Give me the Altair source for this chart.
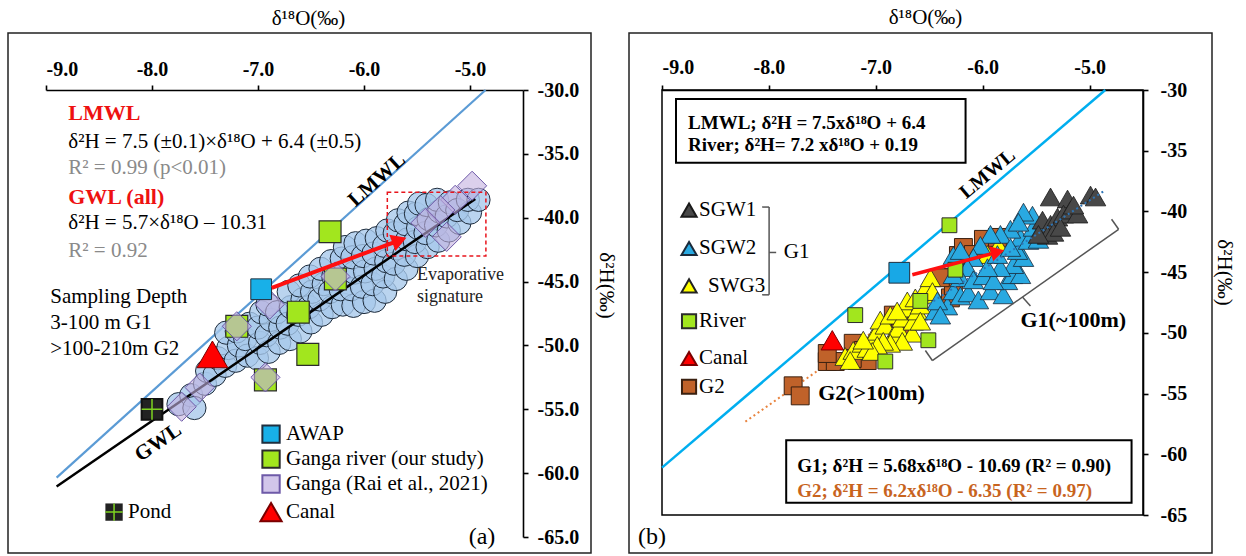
import altair as alt
import pandas as pd

FONT = "Liberation Serif"

# ---------------- Panel (a) data ----------------
circ_x = [-7.75, -7.63, -7.6, -7.5, -7.48, -7.41, -7.38, -7.31, -7.28, -7.3, -7.21, -7.18, -7.2,
          -7.1, -7.12, -7.08, -7.01, -6.98, -7.0, -6.97, -6.9, -6.92, -6.88, -6.91, -6.8, -6.79,
          -6.82, -6.7, -6.72, -6.69, -6.71, -6.6, -6.62, -6.58, -6.61, -6.5, -6.52, -6.49, -6.51,
          -6.4, -6.42, -6.38, -6.41, -6.3, -6.32, -6.29, -6.31, -6.2, -6.22, -6.19, -6.21, -6.18,
          -6.1, -6.12, -6.09, -6.11, -6.08, -6.0, -6.02, -5.99, -6.01, -5.98, -5.9, -5.92, -5.89,
          -5.91, -5.88, -5.8, -5.82, -5.79, -5.81, -5.78, -5.7, -5.72, -5.69, -5.71, -5.68, -5.6,
          -5.62, -5.59, -5.61, -5.58, -5.5, -5.52, -5.49, -5.51, -5.48, -5.4, -5.42, -5.39, -5.41,
          -5.3, -5.32, -5.29, -5.31, -5.2, -5.22, -5.19, -5.1, -5.12, -5.0, -5.02, -4.92]
circ_y = [-54.6, -53.9, -54.9, -53.0, -52.0, -52.3, -51.0, -51.6, -50.2, -49.0, -51.2, -50.0, -48.9,
          -50.8, -49.5, -48.3, -51.0, -49.8, -48.6, -47.4, -50.5, -49.2, -48.0, -46.8, -49.8, -48.6,
          -47.4, -49.5, -48.3, -47.0, -45.8, -48.9, -47.6, -46.4, -45.3, -48.2, -47.0, -45.8, -44.6,
          -47.6, -46.4, -45.2, -44.0, -47.0, -45.8, -44.6, -43.4, -46.8, -45.6, -44.4, -43.2, -42.3,
          -46.9, -45.6, -44.3, -43.1, -42.0, -46.6, -45.4, -44.2, -43.0, -41.8, -46.5, -45.2, -44.0,
          -42.8, -41.6, -45.8, -44.6, -43.4, -42.2, -41.0, -44.8, -43.6, -42.4, -41.2, -40.2, -44.0,
          -42.9, -41.7, -40.5, -39.6, -43.0, -41.9, -40.8, -39.7, -38.9, -42.3, -41.2, -40.1, -39.0,
          -41.8, -40.6, -39.5, -38.6, -41.0, -39.9, -38.8, -40.4, -39.4, -39.6, -38.6, -38.6]

river_a_x = [-6.32, -6.27, -6.62, -7.2, -6.53, -6.93]
river_a_y = [-41.1, -44.8, -47.4, -48.5, -50.7, -52.7]

rai_x = [-4.98, -5.14, -5.28, -5.42, -5.22, -6.27, -6.89, -7.2, -6.93, -7.55, -7.72]
rai_y = [-37.5, -38.6, -39.4, -40.4, -41.5, -44.6, -46.8, -48.5, -52.5, -53.3, -54.8]

awap_a = (-6.97, -45.6)
pond_a = (-8.0, -55.0)
canal_a = (-7.43, -50.7)

lmwl_a_x = [-8.9, -4.853]
lmwl_a_y = [-60.35, -30.0]
gwl_a_x = [-8.9, -4.95]
gwl_a_y = [-61.04, -38.53]

# ---------------- Panel (b) data ----------------
sgw1_x = [-5.365, -5.206, -4.991, -4.944, -5.440, -5.365, -5.300, -5.244, -5.178, -5.112,
          -5.393, -5.337, -5.272, -5.478, -5.150]
sgw1_y = [-38.81, -38.98, -38.65, -38.81, -40.72, -41.06, -40.47, -40.22, -39.89, -40.22,
          -41.97, -41.72, -41.31, -41.89, -39.48]

sgw2_x = [-6.443, -6.330, -6.274, -6.208, -6.134, -6.040, -5.927, -5.806, -5.768, -5.721, -5.646,
          -5.712, -5.618, -5.674, -5.646, -5.571, -5.525, -5.534, -5.618, -5.740, -5.834, -5.927,
          -6.021, -6.087, -6.143, -6.208, -6.274, -6.274, -6.208, -6.087, -5.993, -5.899, -5.834,
          -5.955, -5.862, -5.740, -6.424, -6.396, -5.459, -5.478, -5.665]
sgw2_y = [-48.20, -47.79, -46.54, -46.96, -46.71, -47.29, -46.54, -46.87, -45.71, -45.21, -45.21,
          -44.38, -43.80, -43.22, -42.14, -42.39, -41.31, -40.31, -40.06, -41.47, -41.89, -41.89,
          -42.80, -43.80, -44.63, -45.46, -45.21, -43.63, -43.22, -45.63, -45.30, -45.71, -44.63,
          -44.63, -43.55, -42.97, -47.37, -48.54, -41.55, -42.30, -40.89]

swg3_x = [-7.286, -7.211, -7.126, -7.080, -7.033, -6.986, -6.958, -6.911, -6.864, -6.836, -6.789,
          -6.752, -6.724, -6.705, -6.658, -6.649, -6.611, -6.583, -6.555, -6.518, -6.489, -6.752,
          -6.864, -6.930, -6.986, -7.033, -6.583, -6.630, -5.852, -5.955, -7.239, -7.117, -6.800,
          -6.470]
swg3_y = [-51.95, -51.45, -50.86, -51.28, -50.45, -49.87, -48.95, -49.37, -48.54, -50.20, -49.62,
          -48.79, -47.96, -47.37, -50.03, -49.04, -48.20, -47.71, -46.87, -46.04, -45.46, -50.70,
          -50.86, -50.70, -51.03, -51.53, -49.04, -47.12, -42.80, -43.55, -52.28, -50.60, -48.20,
          -46.60]

g2_x = [-7.773, -7.707, -7.454, -7.379, -7.454, -7.173, -7.080, -7.211, -7.117, -6.770, -6.705,
        -6.836, -6.274, -6.227, -6.180, -5.993, -5.862, -6.087, -6.302, -6.274, -6.396, -7.220]
g2_y = [-54.36, -55.19, -52.36, -52.36, -51.70, -52.28, -52.28, -50.86, -51.45, -49.37, -48.95,
        -48.54, -45.46, -43.63, -42.97, -42.30, -42.14, -43.55, -47.12, -46.13, -45.46, -52.11]

river_b_x = [-6.311, -7.192, -6.508, -6.911, -6.583, -6.255]
river_b_y = [-41.14, -48.54, -50.61, -52.36, -47.37, -44.80]

awap_b = (-6.78, -45.05)
canal_b = (-7.407, -50.61)

lmwl_b_x = [-9.0, -4.853]
lmwl_b_y = [-61.1, -30.0]
g1fit_x = [-6.5, -4.85]
g1fit_y = [-47.61, -38.24]
g2fit_x = [-8.22, -6.4]
g2fit_y = [-57.31, -46.03]

x_ticks = [-9, -8, -7, -6, -5]
y_ticks = [-30, -35, -40, -45, -50, -55, -60, -65]

# ---------------- scales / axes ----------------
XD = [-9, -4.5]
YD = [-65, -30]
WA, HA = 477, 447
WB, HB = 481, 425

SX = alt.Scale(domain=XD, nice=False, zero=False)
SY = alt.Scale(domain=YD, nice=False, zero=False)

AX_XA = alt.Axis(orient="top", values=x_ticks, labelExpr="'-' + format(abs(datum.value), '.1f')",
                 title="δ¹⁸O(‰)", labelPadding=6, titlePadding=31, titleX=262)
AX_YA = alt.Axis(orient="right", values=y_ticks, labelExpr="'-' + format(abs(datum.value), '.1f')",
                 title="δ²H(‰)", labelPadding=9, titlePadding=17, titleY=195)
AX_XB = alt.Axis(orient="top", values=x_ticks, labelExpr="'-' + format(abs(datum.value), '.1f')",
                 title="δ¹⁸O(‰)", labelPadding=8, titlePadding=30, titleX=263)
AX_YB = alt.Axis(orient="right", values=y_ticks, labelExpr="'-' + format(abs(datum.value), 'd')",
                 title="δ²H(‰)", labelPadding=12, titlePadding=27, titleY=182)


def ea(**extra):
    d = dict(x=alt.X("x:Q", scale=SX, axis=AX_XA), y=alt.Y("y:Q", scale=SY, axis=AX_YA))
    d.update(extra)
    return d


def eb(**extra):
    d = dict(x=alt.X("x:Q", scale=SX, axis=AX_XB), y=alt.Y("y:Q", scale=SY, axis=AX_YB))
    d.update(extra)
    return d


def df(xs, ys, **cols):
    d = pd.DataFrame({"x": xs, "y": ys})
    for k, v in cols.items():
        d[k] = v
    return d


def seg(rows):
    return pd.DataFrame(rows, columns=["x", "y", "x2", "y2"])


one = pd.DataFrame({"k": [0]})

# ---------------- Panel (a) ----------------
canvas = alt.Chart(one).mark_rect(opacity=0).encode(
    x=alt.value(-46), x2=alt.value(1200), y=alt.value(-90), y2=alt.value(466))
frame_a = alt.Chart(one).mark_rect(fillOpacity=0, stroke="#222", strokeWidth=1.5).encode(
    x=alt.value(-38), x2=alt.value(545), y=alt.value(-57), y2=alt.value(463))

lmwl_a = alt.Chart(df(lmwl_a_x, lmwl_a_y)).mark_line(color="#5b9bd5", strokeWidth=2.2).encode(**ea())
circles = alt.Chart(df(circ_x, circ_y)).mark_point(
    shape="circle", filled=True, size=540, fill="#a6c8ea", fillOpacity=0.78,
    stroke="#1e2c3c", strokeWidth=1, opacity=1).encode(**ea())
gwl_a = alt.Chart(df(gwl_a_x, gwl_a_y)).mark_line(color="black", strokeWidth=2.5).encode(**ea())
river_a = alt.Chart(df(river_a_x, river_a_y)).mark_point(
    shape="square", filled=True, size=480, fill="#a2e61e", stroke="#2b2b2b", strokeWidth=1.2,
    opacity=1).encode(**ea())
rai = alt.Chart(df(rai_x, rai_y)).mark_point(
    shape="diamond", filled=True, size=850, fill="#c3b1e0", fillOpacity=0.6,
    stroke="#6e5aa8", strokeWidth=1, opacity=1).encode(**ea())
awap_pt = alt.Chart(df([awap_a[0]], [awap_a[1]])).mark_point(
    shape="square", filled=True, size=430, fill="#18b0e8", stroke="#1f2f3f", strokeWidth=1,
    opacity=1).encode(**ea())
pond_pt = alt.Chart(df([pond_a[0]], [pond_a[1]])).mark_point(
    shape="square", filled=True, size=430, fill="#222", stroke="#111", opacity=1).encode(**ea())
pond_cross = alt.Chart(df([pond_a[0]], [pond_a[1]])).mark_point(
    shape="M-1,0L1,0M0,-1L0,1", filled=False, size=430, stroke="#7ed321", strokeWidth=1.5,
    opacity=1).encode(**ea())
canal_pt = alt.Chart(df([canal_a[0]], [canal_a[1]])).mark_point(
    shape="triangle-up", filled=True, size=950, fill="#ff0000", stroke="#7a0000", strokeWidth=1,
    opacity=1).encode(**ea())
evap_box = alt.Chart(seg([[-5.78, -38.0, -4.85, -43.0]])).mark_rect(
    fillOpacity=0, stroke="#e8141c", strokeWidth=1.5, strokeDash=[4, 3]).encode(
    **ea(x2=alt.X2("x2:Q"), y2=alt.Y2("y2:Q")))
arrow_a = alt.Chart(seg([[-6.87, -45.5, -5.666, -41.765]])).mark_rule(
    color="#ff1010", strokeWidth=4).encode(**ea(x2=alt.X2("x2:Q"), y2=alt.Y2("y2:Q")))
head_a = alt.Chart(df([-5.666], [-41.765])).mark_point(
    shape="triangle-right", filled=True, size=300, fill="#ff1010", angle=339.5,
    opacity=1, strokeWidth=0).encode(**ea())

txt_a_black = df([-8.79, -8.79, -8.96, -8.96, -8.96], [-34.07, -40.4, -46.2, -48.25, -50.3],
                 t=["δ²H = 7.5 (±0.1)×δ¹⁸O + 6.4 (±0.5)", "δ²H = 5.7×δ¹⁸O – 10.31",
                    "Sampling Depth", "3-100  m G1", ">100-210m  G2"])
txt_a_gray = df([-8.79, -8.79], [-36.1, -42.6], t=["R² = 0.99 (p<0.01)", "R² = 0.92"])
txt_a_red = df([-8.79, -8.79], [-31.8, -38.4], t=["LMWL", "GWL (all)"])
t_a1 = alt.Chart(txt_a_black).mark_text(font=FONT, fontSize=21, align="left", baseline="middle",
                                        color="black").encode(**ea(text="t:N"))
t_a2 = alt.Chart(txt_a_gray).mark_text(font=FONT, fontSize=21, align="left", baseline="middle",
                                       color="#8a8a8a").encode(**ea(text="t:N"))
t_a3 = alt.Chart(txt_a_red).mark_text(font=FONT, fontSize=22, fontWeight="bold", align="left",
                                      baseline="middle", color="#ee1111").encode(**ea(text="t:N"))
evap_txt = alt.Chart(df([-5.5, -5.5], [-44.5, -46.2], t=["Evaporative", "signature"])).mark_text(
    font=FONT, fontSize=18, align="left", baseline="middle", color="#222").encode(**ea(text="t:N"))
lmwl_lab_a = alt.Chart(df([-5.877], [-37.05], t=["LMWL"])).mark_text(
    font=FONT, fontSize=21, fontWeight="bold", angle=318, color="black").encode(**ea(text="t:N"))
gwl_lab_a = alt.Chart(df([-7.94], [-57.6], t=["GWL"])).mark_text(
    font=FONT, fontSize=21, fontWeight="bold", angle=325.5, color="black").encode(**ea(text="t:N"))
panel_lab_a = alt.Chart(df([-4.887], [-65.0], t=["(a)"])).mark_text(
    font=FONT, fontSize=24, color="black").encode(**ea(text="t:N"))

# legend (a)
leg_awap = alt.Chart(df([-6.877], [-56.94])).mark_point(
    shape="square", filled=True, size=300, fill="#18b0e8", stroke="#1f2f3f", opacity=1).encode(**ea())
leg_river = alt.Chart(df([-6.877], [-58.9])).mark_point(
    shape="square", filled=True, size=300, fill="#a2e61e", stroke="#2b2b2b", opacity=1).encode(**ea())
leg_rai = alt.Chart(df([-6.877], [-60.85])).mark_point(
    shape="square", filled=True, size=300, fill="#d2c6ea", stroke="#6e5aa8", opacity=1).encode(**ea())
leg_canal = alt.Chart(df([-6.877], [-63.05])).mark_point(
    shape="triangle-up", filled=True, size=450, fill="#ff0000", stroke="#7a0000", opacity=1).encode(**ea())
leg_pond = alt.Chart(df([-8.358], [-63.05])).mark_point(
    shape="square", filled=True, size=300, fill="#222", opacity=1).encode(**ea())
leg_pond_x = alt.Chart(df([-8.358], [-63.05])).mark_point(
    shape="M-1,0L1,0M0,-1L0,1", filled=False, size=300, stroke="#7ed321", strokeWidth=1.5,
    opacity=1).encode(**ea())
leg_txt_a = alt.Chart(df([-6.736, -6.736, -6.736, -6.736, -8.226],
                         [-56.94, -58.9, -60.85, -63.05, -63.05],
                         t=["AWAP", "Ganga river (our study)", "Ganga (Rai et al., 2021)", "Canal",
                            "Pond"])).mark_text(
    font=FONT, fontSize=21, align="left", baseline="middle", color="black").encode(**ea(text="t:N"))

panel_a = alt.layer(
    canvas, frame_a, lmwl_a, circles, gwl_a, river_a, rai, awap_pt, pond_pt, pond_cross, canal_pt,
    evap_box, arrow_a, head_a, t_a1, t_a2, t_a3, evap_txt, lmwl_lab_a, gwl_lab_a, panel_lab_a,
    leg_awap, leg_river, leg_rai, leg_canal, leg_pond, leg_pond_x, leg_txt_a
).properties(width=WA, height=HA)

# ---------------- Panel (b) ----------------
frame_b = alt.Chart(one).mark_rect(fillOpacity=0, stroke="#222", strokeWidth=1.5).encode(
    x=alt.value(-33), x2=alt.value(550), y=alt.value(-57), y2=alt.value(463))
box_view_b = alt.Chart(one).mark_rect(fillOpacity=0, stroke="black", strokeWidth=1.5).encode(
    x=alt.value(0), x2=alt.value(WB), y=alt.value(0), y2=alt.value(HB))

lmwl_b = alt.Chart(df(lmwl_b_x, lmwl_b_y)).mark_line(color="#00aeef", strokeWidth=2.5).encode(**eb())
g2fit = alt.Chart(df(g2fit_x, g2fit_y)).mark_line(color="#e8823c", strokeWidth=2,
                                                   strokeDash=[2, 3]).encode(**eb())
g2pts = alt.Chart(df(g2_x, g2_y)).mark_point(
    shape="square", filled=True, size=320, fill="#c0622a", stroke="#3a2010", strokeWidth=1,
    opacity=1).encode(**eb())
swg3 = alt.Chart(df(swg3_x, swg3_y)).mark_point(
    shape="triangle-up", filled=True, size=420, fill="#ffff00", stroke="#222", strokeWidth=0.8,
    opacity=1).encode(**eb())
sgw2 = alt.Chart(df(sgw2_x, sgw2_y)).mark_point(
    shape="triangle-up", filled=True, size=420, fill="#29a9e1", stroke="#1a2a3a", strokeWidth=0.8,
    opacity=1).encode(**eb())
sgw1 = alt.Chart(df(sgw1_x, sgw1_y)).mark_point(
    shape="triangle-up", filled=True, size=420, fill="#484848", stroke="#1a1a1a", strokeWidth=0.8,
    opacity=1).encode(**eb())
g1fit = alt.Chart(df(g1fit_x, g1fit_y)).mark_line(color="#2e75b6", strokeWidth=2,
                                                   strokeDash=[2, 3]).encode(**eb())
river_b = alt.Chart(df(river_b_x, river_b_y)).mark_point(
    shape="square", filled=True, size=220, fill="#a2e61e", stroke="#2b2b2b", strokeWidth=1,
    opacity=1).encode(**eb())
awap_b_pt = alt.Chart(df([awap_b[0]], [awap_b[1]])).mark_point(
    shape="square", filled=True, size=430, fill="#18a8e6", stroke="#1f2f3f", strokeWidth=1,
    opacity=1).encode(**eb())
canal_b_pt = alt.Chart(df([canal_b[0]], [canal_b[1]])).mark_point(
    shape="triangle-up", filled=True, size=500, fill="#ff0000", stroke="#7a0000", strokeWidth=1,
    opacity=1).encode(**eb())
arrow_b = alt.Chart(seg([[-6.658, -45.21, -5.86, -43.35]])).mark_rule(
    color="#ff1010", strokeWidth=3.5).encode(**eb(x2=alt.X2("x2:Q"), y2=alt.Y2("y2:Q")))
head_b = alt.Chart(df([-5.86], [-43.35])).mark_point(
    shape="triangle-right", filled=True, size=240, fill="#ff1010", angle=345,
    opacity=1, strokeWidth=0).encode(**eb())
bracket_b = alt.Chart(seg([
    [-6.471, -52.28, -4.728, -41.47],
    [-6.536, -51.45, -6.471, -52.28],
    [-4.794, -40.64, -4.728, -41.47],
    [-5.628, -47.04, -5.553, -47.79],
    [-7.998, -39.64, -7.998, -46.87],
    [-8.063, -39.64, -7.998, -39.64],
    [-8.063, -46.87, -7.998, -46.87],
    [-7.998, -43.38, -7.932, -43.38],
])).mark_rule(color="#555", strokeWidth=1.5).encode(**eb(x2=alt.X2("x2:Q"), y2=alt.Y2("y2:Q")))

boxes_b = alt.Chart(seg([[-8.869, -30.75, -6.16, -35.99], [-7.838, -58.85, -4.607, -64.0]])).mark_rect(
    fill="white", stroke="black", strokeWidth=2).encode(**eb(x2=alt.X2("x2:Q"), y2=alt.Y2("y2:Q")))
box_txt_black = alt.Chart(df([-8.756, -8.756, -7.735], [-32.74, -34.57, -60.93],
                             t=["LMWL; δ²H = 7.5xδ¹⁸O + 6.4", "River; δ²H= 7.2 xδ¹⁸O + 0.19",
                                "G1; δ²H = 5.68xδ¹⁸O - 10.69 (R² = 0.90)"])).mark_text(
    font=FONT, fontSize=19, fontWeight="bold", align="left", baseline="middle",
    color="black").encode(**eb(text="t:N"))
box_txt_orange = alt.Chart(df([-7.735], [-63.01], t=["G2; δ²H = 6.2xδ¹⁸O - 6.35 (R² = 0.97)"])).mark_text(
    font=FONT, fontSize=19, fontWeight="bold", align="left", baseline="middle",
    color="#c8641e").encode(**eb(text="t:N"))
grp_txt = alt.Chart(df([-5.646, -7.539], [-48.95, -54.94], t=["G1(~100m)", "G2(>100m)"])).mark_text(
    font=FONT, fontSize=22, fontWeight="bold", align="left", baseline="middle",
    color="black").encode(**eb(text="t:N"))
lmwl_lab_b = alt.Chart(df([-5.955], [-36.9], t=["LMWL"])).mark_text(
    font=FONT, fontSize=20, fontWeight="bold", angle=320, color="black").encode(**eb(text="t:N"))
g1_leg_txt = alt.Chart(df([-7.86], [-43.38], t=["G1"])).mark_text(
    font=FONT, fontSize=21, align="left", baseline="middle", color="black").encode(**eb(text="t:N"))
panel_lab_b = alt.Chart(one).mark_text(font=FONT, fontSize=24, color="black", text="(b)").encode(
    x=alt.value(-10), y=alt.value(447))

# legend (b)
leg_sgw1 = alt.Chart(df([-8.747], [-39.89])).mark_point(
    shape="triangle-up", filled=True, size=230, fill="#484848", stroke="#1a1a1a", opacity=1).encode(**eb())
leg_sgw2 = alt.Chart(df([-8.747], [-43.05])).mark_point(
    shape="triangle-up", filled=True, size=230, fill="#29a9e1", stroke="#1a2a3a", opacity=1).encode(**eb())
leg_swg3 = alt.Chart(df([-8.747], [-46.13])).mark_point(
    shape="triangle-up", filled=True, size=230, fill="#ffff00", stroke="#222", opacity=1).encode(**eb())
leg_riv_b = alt.Chart(df([-8.747], [-49.04])).mark_point(
    shape="square", filled=True, size=200, fill="#a2e61e", stroke="#2b2b2b", opacity=1).encode(**eb())
leg_can_b = alt.Chart(df([-8.747], [-52.11])).mark_point(
    shape="triangle-up", filled=True, size=230, fill="#ff0000", stroke="#7a0000", opacity=1).encode(**eb())
leg_g2_b = alt.Chart(df([-8.747], [-54.44])).mark_point(
    shape="square", filled=True, size=200, fill="#c0622a", stroke="#3a2010", opacity=1).encode(**eb())
leg_txt_b = alt.Chart(df([-8.653, -8.653, -8.569, -8.653, -8.653, -8.653],
                         [-39.89, -43.05, -46.13, -49.04, -52.11, -54.44],
                         t=["SGW1", "SGW2", "SWG3", "River", "Canal", "G2"])).mark_text(
    font=FONT, fontSize=21, align="left", baseline="middle", color="black").encode(**eb(text="t:N"))

panel_b = alt.layer(
    frame_b, box_view_b, lmwl_b, g2fit, g2pts, swg3, sgw2, sgw1, g1fit, river_b, awap_b_pt,
    canal_b_pt, arrow_b, head_b, bracket_b, boxes_b, box_txt_black, box_txt_orange, grp_txt,
    lmwl_lab_b, g1_leg_txt, panel_lab_b, leg_sgw1, leg_sgw2, leg_swg3, leg_riv_b, leg_can_b,
    leg_g2_b, leg_txt_b
).properties(width=WB, height=HB)

chart = alt.hconcat(panel_a, panel_b, spacing=139, bounds="flush").properties(
    padding=0, background="white"
).configure_view(strokeWidth=0).configure_axis(
    grid=False, domainColor="black", domainWidth=1.6, tickColor="black", tickWidth=1.6, tickSize=5,
    labelFont=FONT, labelFontSize=20, labelFontWeight="bold", labelColor="black",
    titleFont=FONT, titleFontSize=21, titleFontWeight="normal", titleColor="black"
)

chart.save("out.html", embed_options={"renderer": "svg", "actions": False})
